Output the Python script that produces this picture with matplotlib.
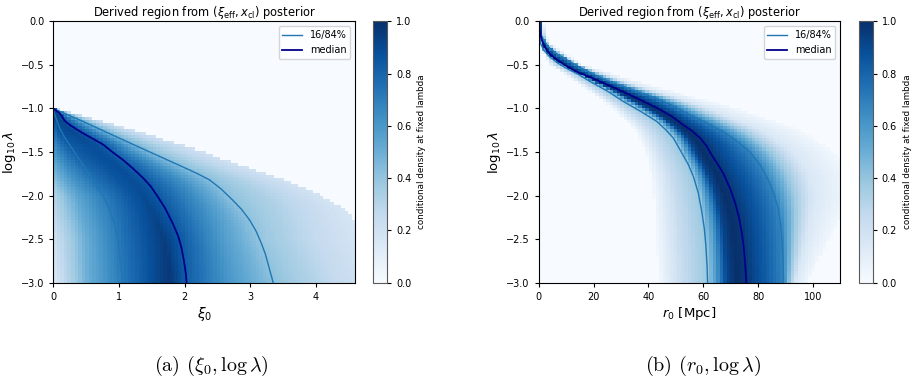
import matplotlib.pyplot as plt
import numpy as np

plt.rcParams['font.family'] = 'DejaVu Sans'
plt.rcParams['mathtext.fontset'] = 'dejavusans'
plt.rcParams['axes.linewidth'] = 0.8
plt.rcParams['xtick.major.size'] = 3
plt.rcParams['ytick.major.size'] = 3
plt.rcParams['xtick.labelsize'] = 7
plt.rcParams['ytick.labelsize'] = 7

# --- panel (a): xi_0 vs log10 lambda ---
q16_a_x = [0.0, 0.01, 0.025, 0.06, 0.10, 0.17, 0.25, 0.35, 0.455, 0.55, 0.63, 0.71, 0.79, 0.86, 0.92, 0.97, 1.0, 1.03, 1.05]
q16_a_lam = [-1.0, -1.04, -1.076, -1.15, -1.23, -1.33, -1.42, -1.53, -1.65, -1.75, -1.85, -1.95, -2.05, -2.17, -2.3, -2.45, -2.6, -2.8, -3.0]
q50_a_x = [0.0, 0.10, 0.178, 0.254, 0.355, 0.456, 0.608, 0.76, 0.9, 1.06, 1.2, 1.37, 1.48, 1.58, 1.7, 1.82, 1.9, 1.95, 1.99, 2.02, 2.03]
q50_a_lam = [-1.0, -1.056, -1.145, -1.19, -1.24, -1.286, -1.35, -1.415, -1.5, -1.59, -1.68, -1.80, -1.89, -2.0, -2.14, -2.32, -2.46, -2.59, -2.75, -2.9, -3.0]
q84_a_x = [0.0, 0.455, 0.96, 1.47, 1.97, 2.2, 2.38, 2.55, 2.73, 2.87, 2.99, 3.09, 3.17, 3.23, 3.27, 3.31, 3.35]
q84_a_lam = [-1.0, -1.15, -1.325, -1.50, -1.67, -1.75, -1.82, -1.92, -2.05, -2.16, -2.28, -2.41, -2.55, -2.67, -2.78, -2.89, -3.0]
edge_a_x = [0.0, 0.8, 2.23, 2.99, 3.7, 4.1, 4.4, 4.62, 5.0, 5.3]
edge_a_lam = [-1.0, -1.16, -1.48, -1.68, -1.86, -2.0, -2.13, -2.3, -2.6, -3.0]

# shading levels across the band (0 -> q16 -> median -> q84 -> edge), by row
u_a = [-2, -1.5, -1, -0.5, -0.25, 0, 0.5, 1, 1.5, 2]
lev_a_lam = [-1.1, -1.5, -2.0, -2.5, -3.0]
lev_a = [[0.85, 0.90, 0.92, 0.92, 0.90, 0.85, 0.70, 0.50, 0.32, 0.20],
         [0.60, 0.72, 0.82, 0.88, 0.88, 0.82, 0.65, 0.45, 0.30, 0.20],
         [0.30, 0.55, 0.70, 0.85, 0.90, 0.85, 0.65, 0.42, 0.30, 0.18],
         [0.20, 0.50, 0.72, 0.88, 0.95, 0.85, 0.60, 0.40, 0.25, 0.15],
         [0.15, 0.50, 0.72, 0.90, 0.97, 0.82, 0.60, 0.42, 0.25, 0.15]]

# --- panel (b): r_0 vs log10 lambda ---
q16_b_x = [0.0, 0.1, 0.2, 0.6, 1.8, 4.1, 7.0, 10.2, 14.5, 18.7, 25.0, 30.9, 37.5, 43.1, 46.5, 49.1, 52.0, 54.5, 56.4, 58.2, 59.4, 60.4, 61.0, 61.4, 61.6]
q16_b_lam = [0.0, -0.06, -0.12, -0.25, -0.33, -0.41, -0.48, -0.54, -0.61, -0.69, -0.8, -0.92, -1.04, -1.15, -1.25, -1.34, -1.5, -1.64, -1.78, -1.97, -2.17, -2.38, -2.59, -2.8, -3.0]
q50_b_x = [0.0, 0.2, 0.4, 0.7, 1.1, 1.9, 2.9, 4.5, 6.6, 10.0, 13.9, 18.7, 24.5, 30.9, 37.0, 43.5, 48.5, 52.8, 56.0, 58.9, 61.2, 63.0, 65.3, 67.4, 69.8, 71.7, 73.1, 74.1, 74.8, 75.3, 75.7]
q50_b_lam = [0.0, -0.05, -0.1, -0.15, -0.21, -0.27, -0.33, -0.39, -0.44, -0.51, -0.58, -0.64, -0.72, -0.81, -0.9, -1.0, -1.09, -1.19, -1.26, -1.34, -1.43, -1.53, -1.64, -1.75, -1.92, -2.09, -2.26, -2.43, -2.6, -2.78, -3.0]
q84_b_x = [0.0, 0.3, 0.7, 2.0, 4.1, 7.0, 10.2, 14.5, 19.5, 25.0, 31.0, 37.0, 43.0, 49.0, 55.2, 61.5, 67.4, 72.5, 77.0, 80.8, 84.0, 86.0, 87.5, 88.3, 88.8, 89.1, 89.3]
q84_b_lam = [0.0, -0.07, -0.14, -0.23, -0.31, -0.38, -0.44, -0.52, -0.6, -0.68, -0.75, -0.82, -0.885, -0.97, -1.075, -1.17, -1.27, -1.38, -1.5, -1.65, -1.84, -2.0, -2.17, -2.35, -2.55, -2.75, -3.0]
lo_b_lam = [0.0, -0.25, -0.5, -0.75, -1.0, -1.25, -1.5, -1.75, -2.0, -2.5, -3.0]
lo_b_x = [0.0, 0.0, 4.0, 16.0, 27.0, 35.0, 39.0, 41.0, 42.0, 43.0, 44.0]
hi_b_x = [1.5, 4.0, 16.0, 42.0, 72.0, 95.0, 108.0, 114.0, 114.0, 106.0, 98.0]

u_b = [-2, -1.5, -1, -0.75, -0.5, -0.25, 0, 0.5, 1, 1.25, 1.5, 2]
lev_b = [0.03, 0.25, 0.38, 0.62, 0.92, 1.0, 0.97, 0.84, 0.68, 0.38, 0.15, 0.03]


def at(lam, lam_pts, x_pts):
    return np.interp(lam, lam_pts[::-1], x_pts[::-1])


def density_map(xedges, lamedges, knot_fns, lam_top, eps, u_pts, levels_for):
    xc = 0.5 * (xedges[1:] + xedges[:-1])
    lc = 0.5 * (lamedges[1:] + lamedges[:-1])
    Z = np.zeros((len(lc), len(xc)))
    for i, lam in enumerate(lc):
        if lam > lam_top:
            continue
        kn = np.array([f(lam) for f in knot_fns])
        for j in range(1, 5):
            kn[j] = max(kn[j], kn[j - 1] + eps)
        u = np.interp(xc, kn, [-2, -1, 0, 1, 2])
        row = np.interp(u, u_pts, levels_for(lam))
        row[(xc < kn[0]) | (xc > kn[-1])] = 0
        Z[i] = row
    return Z


def levels_a(lam):
    tab = np.array(lev_a)
    return [np.interp(lam, lev_a_lam[::-1], tab[::-1, j]) for j in range(tab.shape[1])]


fig = plt.figure(figsize=(9.14, 3.84), dpi=100)
le = np.linspace(-3, 0, 88)

# ---------------- panel (a) ----------------
ax1 = fig.add_axes([0.0583, 0.2638, 0.3304, 0.6807])
cax1 = fig.add_axes([0.4085, 0.2638, 0.0153, 0.6807])
xe_a = np.linspace(0, 4.6, 86)
knots_a = [lambda l: 0.0,
           lambda l: at(l, q16_a_lam, q16_a_x),
           lambda l: at(l, q50_a_lam, q50_a_x),
           lambda l: at(l, q84_a_lam, q84_a_x),
           lambda l: at(l, edge_a_lam, edge_a_x)]
Z_a = density_map(xe_a, le, knots_a, -1.0, 0.02, u_a, levels_a)
im1 = ax1.pcolormesh(xe_a, le, Z_a, cmap='Blues', vmin=0, vmax=1, shading='flat')
ax1.plot(q16_a_x, q16_a_lam, color='#1f77b4', lw=1.0, label='16/84%')
ax1.plot(q84_a_x, q84_a_lam, color='#1f77b4', lw=1.0)
ax1.plot(q50_a_x, q50_a_lam, color='darkblue', lw=1.3, label='median')
ax1.set_xlim(0, 4.6)
ax1.set_ylim(-3, 0)
ax1.set_xticks([0, 1, 2, 3, 4])
ax1.set_xlabel(r'$\xi_0$', fontsize=10, labelpad=2)
ax1.set_ylabel(r'$\log_{10}\lambda$', fontsize=9.5, labelpad=2)
ax1.set_title(r'Derived region from $(\xi_{\rm eff}, x_{\rm cl})$ posterior', fontsize=8.3, pad=4)
ax1.legend(loc='upper right', fontsize=7)
cb1 = fig.colorbar(im1, cax=cax1)
cb1.set_label('conditional density at fixed lambda', fontsize=6.3)
cb1.ax.tick_params(labelsize=7, length=3)
cb1.outline.set_edgecolor('0.35')

# ---------------- panel (b) ----------------
ax2 = fig.add_axes([0.5894, 0.2638, 0.33, 0.6807])
cax2 = fig.add_axes([0.9395, 0.2638, 0.0153, 0.6807])
xe_b = np.linspace(0, 110, 86)
knots_b = [lambda l: at(l, lo_b_lam, lo_b_x),
           lambda l: at(l, q16_b_lam, q16_b_x),
           lambda l: at(l, q50_b_lam, q50_b_x),
           lambda l: at(l, q84_b_lam, q84_b_x),
           lambda l: at(l, lo_b_lam, hi_b_x)]
Z_b = density_map(xe_b, le, knots_b, 0.0, 0.4, u_b, lambda l: lev_b)
im2 = ax2.pcolormesh(xe_b, le, Z_b, cmap='Blues', vmin=0, vmax=1, shading='flat')
ax2.plot(q16_b_x, q16_b_lam, color='#1f77b4', lw=1.0, label='16/84%')
ax2.plot(q84_b_x, q84_b_lam, color='#1f77b4', lw=1.0)
ax2.plot(q50_b_x, q50_b_lam, color='darkblue', lw=1.3, label='median')
ax2.set_xlim(0, 110)
ax2.set_ylim(-3, 0)
ax2.set_xticks([0, 20, 40, 60, 80, 100])
ax2.set_xlabel(r'$r_0$ [Mpc]', fontsize=9.5, labelpad=2)
ax2.set_ylabel(r'$\log_{10}\lambda$', fontsize=9.5, labelpad=2)
ax2.set_title(r'Derived region from $(\xi_{\rm eff}, x_{\rm cl})$ posterior', fontsize=8.3, pad=4)
ax2.legend(loc='upper right', fontsize=7)
cb2 = fig.colorbar(im2, cax=cax2)
cb2.set_label('conditional density at fixed lambda', fontsize=6.3)
cb2.ax.tick_params(labelsize=7, length=3)
cb2.outline.set_edgecolor('0.35')

# captions
fig.text(0.231, 0.047, r'(a) $(\xi_0, \log\lambda)$', ha='center', va='center',
         fontsize=14.5, family='cmr10', math_fontfamily='cm')
fig.text(0.769, 0.047, r'(b) $(r_0, \log\lambda)$', ha='center', va='center',
         fontsize=14.5, family='cmr10', math_fontfamily='cm')

fig.savefig('out.png', dpi=100)
